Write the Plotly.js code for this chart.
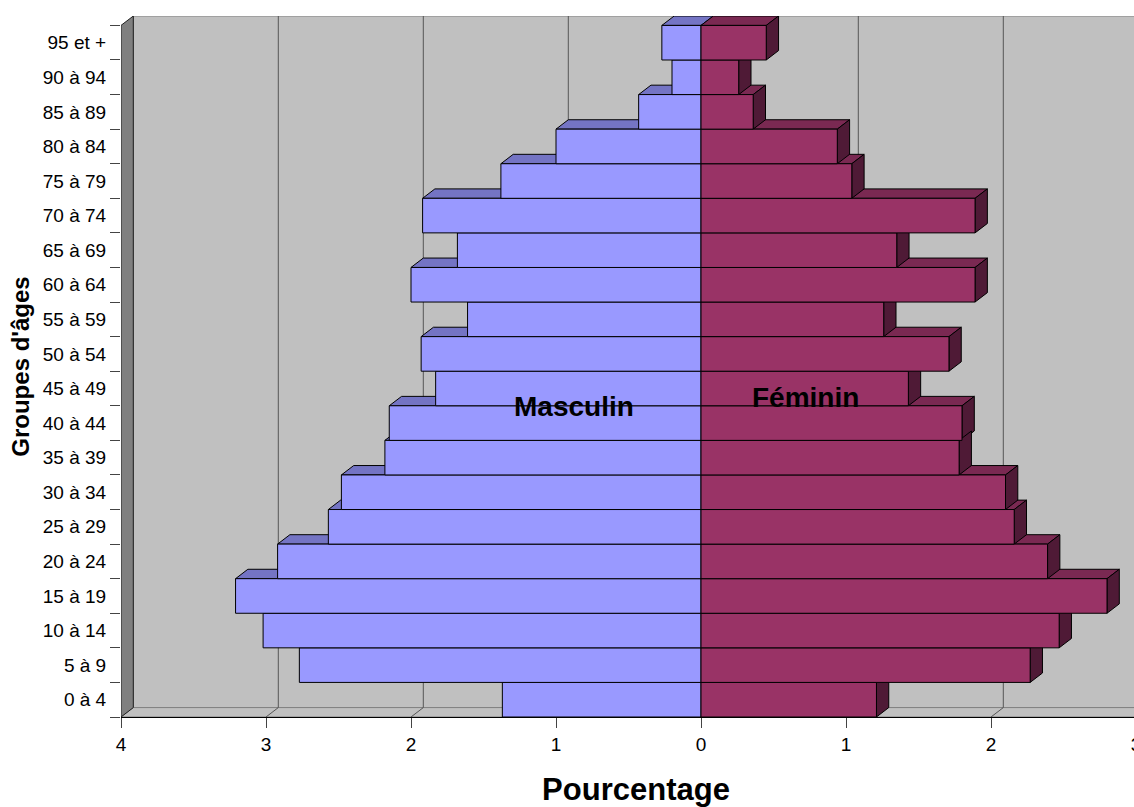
<!DOCTYPE html>
<html><head><meta charset="utf-8">
<script src="https://cdn.plot.ly/plotly-3.0.1.min.js"></script>
<style>html,body{margin:0;padding:0;overflow:hidden;background:#fff}</style>
</head><body><div id="chart" style="width:1151px;height:807px"></div>
<script>
// ---- data (bottom to top) ----
const ageGroups = ['0 à 4','5 à 9','10 à 14','15 à 19','20 à 24','25 à 29','30 à 34','35 à 39','40 à 44','45 à 49','50 à 54','55 à 59','60 à 64','65 à 69','70 à 74','75 à 79','80 à 84','85 à 89','90 à 94','95 et +'];
const masculin = [1.37, 2.77, 3.02, 3.21, 2.92, 2.57, 2.48, 2.18, 2.15, 1.83, 1.93, 1.61, 2.00, 1.68, 1.92, 1.38, 1.00, 0.43, 0.20, 0.27];
const feminin  = [1.21, 2.27, 2.47, 2.80, 2.39, 2.16, 2.10, 1.78, 1.80, 1.43, 1.71, 1.26, 1.89, 1.35, 1.89, 1.04, 0.94, 0.36, 0.26, 0.45];
const xTickVals = [-4, -3, -2, -1, 0, 1, 2, 3];
const xTickText = ['4', '3', '2', '1', '0', '1', '2', '3'];
const seriesNames = ['Masculin', 'Féminin'];
const xTitle = 'Pourcentage';
const yTitle = "Groupes d'âges";

// ---- styling ----
const FONT = 'Arial, "Liberation Sans", sans-serif';
const DX = 12.3 / 145;     // 3-D depth offset (axis units)
const DY = 0.272;
const XMAX = 3.1034;
const C_M = '#9999FF', C_M_TOP = '#7474C4';
const C_F = '#993366', C_F_TOP = '#7A2952', C_F_SIDE = '#4F1A36';

const yIdx = ageGroups.map((_, i) => i);
const yLo = -0.5, yHi = ageGroups.length - 0.5;

const shapes = [];
const poly = (pts, fill, line, lw) => shapes.push({
  type: 'path', xref: 'x', yref: 'y', layer: 'below',
  path: 'M' + pts.map(p => p[0] + ',' + p[1]).join('L') + 'Z',
  fillcolor: fill, line: {color: line, width: lw}
});
// back wall
shapes.push({type:'rect', xref:'x', yref:'y', layer:'below', x0:-4+DX, x1:XMAX+1, y0:yLo+DY, y1:yHi+DY,
  fillcolor:'#C0C0C0', line:{color:'#808080', width:1}});
// floor
poly([[-4,yLo],[XMAX+1,yLo],[XMAX+1+DX,yLo+DY],[-4+DX,yLo+DY]], '#C0C0C0', '#808080', 1);
// left wall
poly([[-4,yLo],[-4,yHi],[-4+DX,yHi+DY],[-4+DX,yLo+DY]], '#808080', '#202020', 1);
// gridlines (back wall + floor)
xTickVals.forEach(v => {
  if (v === xTickVals[0]) return;
  shapes.push({type:'path', xref:'x', yref:'y', layer:'below',
    path:`M${v},${yLo}L${v+DX},${yLo+DY}L${v+DX},${yHi+DY}`, line:{color:'#555555', width:1}});
});
// top faces
yIdx.forEach(i => {
  const t = i + 0.5, m = -masculin[i], f = feminin[i];
  poly([[m,t],[0,t],[DX,t+DY],[m+DX,t+DY]], C_M_TOP, '#000', 1);
  poly([[0,t],[f,t],[f+DX,t+DY],[DX,t+DY]], C_F_TOP, '#000', 1);
});
// side faces (top rows first)
yIdx.slice().reverse().forEach(i => {
  const f = feminin[i];
  poly([[f,i-0.5],[f,i+0.5],[f+DX,i+0.5+DY],[f+DX,i-0.5+DY]], C_F_SIDE, '#000', 1);
});

const traces = [
  {type:'bar', orientation:'h', name:seriesNames[0], y:yIdx, x:masculin.map(v => -v), width:1,
   marker:{color:C_M, line:{color:'#000', width:1}}, hoverinfo:'skip'},
  {type:'bar', orientation:'h', name:seriesNames[1], y:yIdx, x:feminin, width:1,
   marker:{color:C_F, line:{color:'#000', width:1}}, hoverinfo:'skip'}
];

const layout = {
  width:1151, height:807,
  margin:{l:121, r:0, t:16, b:90, pad:0},
  paper_bgcolor:'#fff', plot_bgcolor:'#fff',
  showlegend:false, barmode:'overlay', bargap:0,
  font:{family:FONT, color:'#000', size:19},
  xaxis:{range:[-4, XMAX], tickmode:'array', tickvals:xTickVals, ticktext:xTickText,
    ticks:'outside', ticklen:10, tickcolor:'#444', tickwidth:1,
    showline:true, linecolor:'#000', linewidth:1, showgrid:false, zeroline:false,
    tickfont:{size:19, family:FONT},
    title:{text:'<b>'+xTitle+'</b>', font:{size:31, family:FONT}, standoff:27}},
  yaxis:{range:[yLo, yHi+DY], tickmode:'array', tickvals:yIdx, ticktext:ageGroups,
    ticks:'outside', ticklen:10, tickcolor:'rgba(0,0,0,0)',
    minor:{tickmode:'linear', tick0:0.5, dtick:1, ticks:'outside', ticklen:10, tickcolor:'#444', tickwidth:1, showgrid:false},
    showgrid:false, zeroline:false, showline:false,
    tickfont:{size:19, family:FONT},
    title:{text:'<b>'+yTitle+'</b>', font:{size:24, family:FONT}, standoff:6}},
  shapes:shapes,
  annotations:[
    {x:-0.879, y:8.49, xref:'x', yref:'y', text:'<b>'+seriesNames[0]+'</b>', showarrow:false,
     xanchor:'center', yanchor:'middle', font:{size:28, family:FONT, color:'#000'}},
    {x:0.724, y:8.75, xref:'x', yref:'y', text:'<b>'+seriesNames[1]+'</b>', showarrow:false,
     xanchor:'center', yanchor:'middle', font:{size:28, family:FONT, color:'#000'}}
  ]
};
Plotly.newPlot('chart', traces, layout, {displayModeBar:false, staticPlot:true});
</script></body></html>
